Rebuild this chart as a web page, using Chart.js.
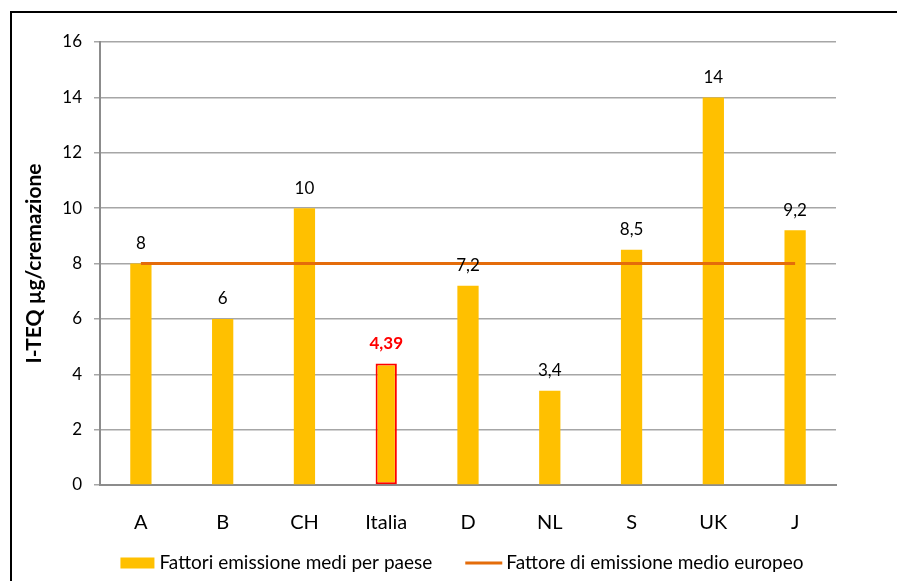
<!DOCTYPE html>
<html>
<head>
<meta charset="utf-8">
<script src="https://cdn.jsdelivr.net/npm/chart.js@4/dist/chart.umd.min.js"></script>
<style>
  html, body { margin: 0; padding: 0; background: #fff; overflow: hidden; }
  #wrap { position: relative; width: 897px; height: 581px; }
  #frame { position: absolute; left: 10px; top: 11px; width: 900px; height: 600px; border: 2px solid #000; pointer-events: none; }
</style>
</head>
<body>
<div id="wrap">
  <canvas id="chart"></canvas>
  <div id="frame"></div>
</div>
<script>
const categories = ["A", "B", "CH", "Italia", "D", "NL", "S", "UK", "J"];
const emissionValues = [8, 6, 10, 4.39, 7.2, 3.4, 8.5, 14, 9.2];
const valueLabels = ["8", "6", "10", "4,39", "7,2", "3,4", "8,5", "14", "9,2"];
const europeanAverage = [8, 8, 8, 8, 8, 8, 8, 8, 8];
const highlightIndex = 3;

const FONT = "Lato, Calibri, 'Open Sans', sans-serif";
const BAR_COLOR = "#ffc000";
const LINE_COLOR = "#e46c0a";

// value labels above each bar
const barLabels = {
  id: "barLabels",
  afterDatasetsDraw(chart) {
    const meta = chart.getDatasetMeta(1);
    const ctx = chart.ctx;
    ctx.save();
    ctx.textAlign = "center";
    ctx.textBaseline = "middle";
    meta.data.forEach((bar, i) => {
      const hl = i === highlightIndex;
      ctx.font = (hl ? "bold " : "") + "17px " + FONT;
      ctx.fillStyle = hl ? "#ff0000" : "#000";
      ctx.fillText(valueLabels[i], bar.x, bar.y - 20);
    });
    ctx.restore();
  }
};

// legend below the x labels (bar box, then line)
const bottomLegend = {
  id: "bottomLegend",
  afterDraw(chart) {
    const ctx = chart.ctx;
    const area = chart.chartArea;
    const ds = chart.data.datasets;
    const y = area.bottom + 78;
    ctx.save();
    ctx.font = "19px " + FONT;
    ctx.textBaseline = "middle";
    ctx.fillStyle = "#000";
    const t1 = ds[1].label, t2 = ds[0].label;
    const w1 = ctx.measureText(t1).width, w2 = ctx.measureText(t2).width;
    const total = 34 + 5 + w1 + 33 + 37 + 4 + w2;
    let x = (area.left + area.right) / 2 - 6 - total / 2;
    ctx.fillStyle = BAR_COLOR;
    ctx.fillRect(x, y - 5.5, 34, 11);
    x += 39;
    ctx.fillStyle = "#000";
    ctx.fillText(t1, x, y);
    x += w1 + 33;
    ctx.strokeStyle = LINE_COLOR;
    ctx.lineWidth = 3;
    ctx.beginPath();
    ctx.moveTo(x, y);
    ctx.lineTo(x + 37, y);
    ctx.stroke();
    x += 41;
    ctx.fillText(t2, x, y);
    ctx.restore();
  }
};

new Chart(document.getElementById("chart"), {
  data: {
    labels: categories,
    datasets: [
      {
        type: "line",
        label: "Fattore di emissione medio europeo",
        data: europeanAverage,
        borderColor: LINE_COLOR,
        backgroundColor: LINE_COLOR,
        borderWidth: 3,
        pointRadius: 0,
        tension: 0
      },
      {
        type: "bar",
        label: "Fattori emissione medi per paese",
        data: emissionValues,
        backgroundColor: BAR_COLOR,
        borderColor: categories.map((c, i) => (i === highlightIndex ? "#ff0000" : "rgba(0,0,0,0)")),
        borderWidth: categories.map((c, i) => (i === highlightIndex ? 2 : 0)),
        borderSkipped: false,
        barPercentage: 0.26,
        categoryPercentage: 1
      }
    ]
  },
  options: {
    responsive: true,
    maintainAspectRatio: false,
    animation: false,
    layout: { padding: { left: 22, right: 61, top: 42, bottom: 0 } },
    plugins: {
      tooltip: { enabled: false },
      legend: { display: false }
    },
    scales: {
      x: {
        grid: { display: false, drawTicks: false },
        border: { color: "#8c8c8c", width: 2 },
        ticks: { color: "#000", font: { family: FONT, size: 20 }, padding: 26 },
        afterFit(scale) { scale.height = 96; }
      },
      y: {
        min: 0,
        max: 16,
        ticks: { stepSize: 2, color: "#000", font: { family: FONT, size: 17 }, padding: 12 },
        grid: { color: "#a6a6a6", lineWidth: 1.5, tickLength: 6 },
        border: { color: "#8c8c8c", width: 2 },
        title: {
          display: true,
          text: "I-TEQ µg/cremazione",
          color: "#000",
          font: { family: FONT, size: 21, weight: "bold" },
          padding: 0
        },
        afterFit(scale) { scale.width = 100 - 22; }
      }
    }
  },
  plugins: [barLabels, bottomLegend]
});
</script>
</body>
</html>
